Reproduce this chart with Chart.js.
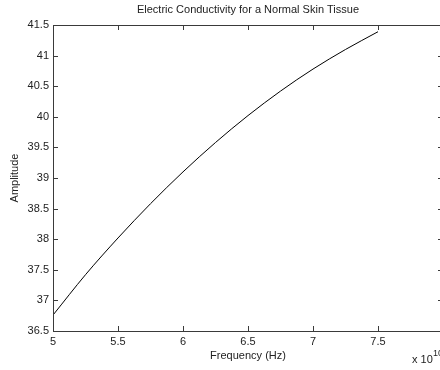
<!DOCTYPE html>
<html>
<head>
<meta charset="utf-8">
<script src="https://cdn.jsdelivr.net/npm/chart.js@4"></script>
<style>
  html, body { margin: 0; padding: 0; background: #fff; overflow: hidden; }
  #wrap { width: 460px; height: 370px; }
</style>
</head>
<body>
<div id="wrap"><canvas id="chart" width="460" height="370"></canvas></div>
<script>
// frequency in units of 1e10 Hz
const freq = [5.0, 5.25, 5.5, 5.75, 6.0, 6.25, 6.5, 6.75, 7.0, 7.25, 7.5];
const amplitude = [36.76, 37.42, 38.02, 38.58, 39.10, 39.58, 40.02, 40.42, 40.78, 41.10, 41.39];
const xTicks = [5, 5.5, 6, 6.5, 7, 7.5, 8];
const yTicks = [36.5, 37, 37.5, 38, 38.5, 39, 39.5, 40, 40.5, 41, 41.5];

const axisColor = '#3a3a3a';
const textColor = '#222';
const font = { family: 'Liberation Sans, Arial, sans-serif', size: 11 };

// MATLAB style box with inward ticks, titles
const matlabBox = {
    id: 'matlabBox',
    afterDraw(chart) {
        const ctx = chart.ctx;
        const a = chart.chartArea;
        const xs = chart.scales.x, ys = chart.scales.y;
        ctx.save();
        ctx.strokeStyle = axisColor;
        ctx.lineWidth = 1;
        ctx.strokeRect(a.left + 0.5, a.top + 0.5, a.right - a.left, a.bottom - a.top);
        ctx.beginPath();
        xTicks.forEach(v => {
            const px = Math.round(xs.getPixelForValue(v)) + 0.5;
            ctx.moveTo(px, a.bottom); ctx.lineTo(px, a.bottom - 5);
            ctx.moveTo(px, a.top); ctx.lineTo(px, a.top + 5);
        });
        yTicks.forEach(v => {
            const py = Math.round(ys.getPixelForValue(v)) + 0.5;
            ctx.moveTo(a.left, py); ctx.lineTo(a.left + 5, py);
            ctx.moveTo(a.right, py); ctx.lineTo(a.right - 5, py);
        });
        ctx.stroke();

        ctx.fillStyle = textColor;
        ctx.font = `${font.size}px ${font.family}`;
        ctx.textAlign = 'center';
        ctx.textBaseline = 'middle';
        const cx = (a.left + a.right) / 2;
        ctx.fillText('Electric Conductivity for a Normal Skin Tissue', cx, 10);
        ctx.fillText('Frequency (Hz)', cx, 356);

        ctx.save();
        ctx.translate(15, (a.top + a.bottom) / 2);
        ctx.rotate(-Math.PI / 2);
        ctx.fillText('Amplitude', 0, 0);
        ctx.restore();

        ctx.textAlign = 'left';
        ctx.fillText('x 10', 412, 360);
        ctx.font = `9px ${font.family}`;
        ctx.fillText('10', 433, 354);
        ctx.restore();
    }
};

new Chart(document.getElementById('chart'), {
    type: 'line',
    data: {
        datasets: [{
            data: freq.map((f, i) => ({ x: f, y: amplitude[i] })),
            borderColor: '#000',
            borderWidth: 1,
            pointRadius: 0,
            cubicInterpolationMode: 'monotone',
            fill: false
        }]
    },
    options: {
        responsive: false,
        animation: false,
        layout: { padding: { left: 0, top: 25, right: 17, bottom: 0 } },
        plugins: { legend: { display: false }, tooltip: { enabled: false } },
        scales: {
            x: {
                type: 'linear',
                min: 5, max: 8,
                afterBuildTicks: s => { s.ticks = xTicks.map(v => ({ value: v })); },
                afterFit: s => { s.height = 39; },
                grid: { display: false, drawTicks: false },
                border: { display: false },
                ticks: { color: textColor, font: font, padding: 4, maxRotation: 0, autoSkip: false, callback: v => String(v) }
            },
            y: {
                min: 36.5, max: 41.5,
                afterBuildTicks: s => { s.ticks = yTicks.map(v => ({ value: v })); },
                afterFit: s => { s.width = 53; },
                grid: { display: false, drawTicks: false },
                border: { display: false },
                ticks: { color: textColor, font: font, padding: 4, autoSkip: false, callback: v => String(v) }
            }
        }
    },
    plugins: [matlabBox]
});
</script>
</body>
</html>
